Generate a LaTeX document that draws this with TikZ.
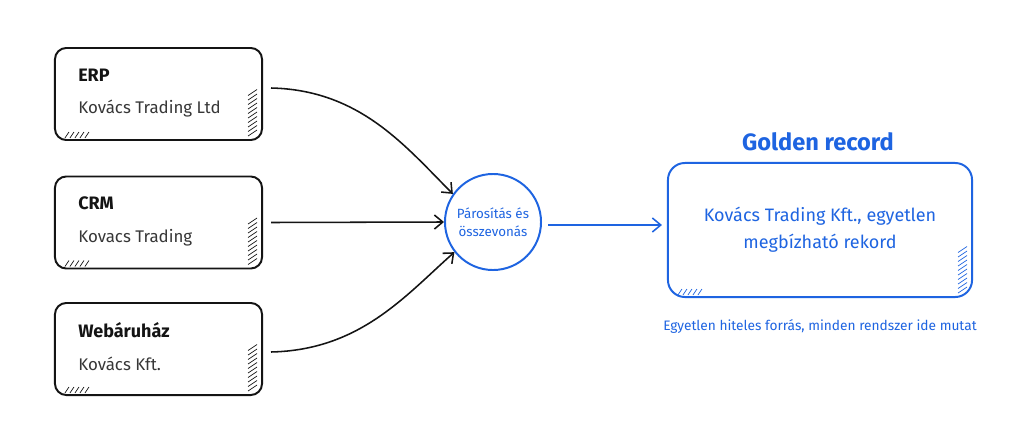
\documentclass[tikz,border=0pt]{standalone}
\usepackage{fontspec}
\setmainfont{Fira Sans}
\usetikzlibrary{calc,positioning,arrows.meta}
\definecolor{recblue}{RGB}{30,100,225}
\definecolor{inkblack}{RGB}{20,20,20}
\tikzset{
  srcbox/.style={draw=inkblack, line width=1.4pt, rounded corners=8pt, minimum width=5.175cm, minimum height=2.3cm, inner sep=0pt},
  srctitle/.style={font=\fontsize{12.8}{14}\selectfont\bfseries, text=inkblack, inner sep=0pt},
  srcsub/.style={font=\fontsize{12}{14}\selectfont, text=inkblack!85, inner sep=0pt},
  flow/.style={inkblack, line width=1.1pt, -{Straight Barb[length=6pt,width=10pt,line width=1.1pt]}},
}
\newcommand{\hatch}[2]{%
  \foreach \k in {0,...,4} \draw[#2, line width=0.5pt] ($(#1.south west)+(11+\k*5,3)$) -- ++(4,6);
  \foreach \k in {0,...,9} \draw[#2, line width=0.5pt] ($(#1.south east)+(-15,5+\k*4.5)$) -- ++(9,6);
}
\newcommand{\srcnode}[4]{%
  \node[srcbox] (#1) at (158.5,#2) {};
  \node[srctitle, anchor=west] (#1t) at ($(#1.center)+(-80.5,19)$) {#3};
  \node[srcsub, anchor=west] (#1s) at ($(#1.center)+(-80.5,-15)$) {#4};
  \hatch{#1}{inkblack}
}

\begin{document}
\begin{tikzpicture}[x=0.025cm, y=0.025cm]
  \useasboundingbox[fill=white] (0,0) rectangle (1024,436);

  % source systems
  \srcnode{erp}{342}{ERP}{Kovács Trading Ltd}
  \srcnode{crm}{213.5}{CRM}{Kovacs Trading}
  \srcnode{web}{87}{Webáruház}{Kovács Kft.}

  % matching step
  \node[circle, draw=recblue, line width=1.4pt, minimum size=2.4cm, inner sep=0pt, align=center,
        text=recblue, font=\fontsize{9.5}{13}\selectfont] (mrg) at (493,214) {Párosítás és\\összevonás};

  % golden record
  \node[draw=recblue, line width=1.4pt, rounded corners=12pt, minimum width=7.6cm, minimum height=3.35cm,
        align=center, text=recblue, font=\fontsize{12.8}{19}\selectfont] (gold) at (820,206)
        {Kovács Trading Kft., egyetlen\\megbízható rekord};
  \hatch{gold}{recblue}
  \node[text=recblue, font=\fontsize{16.8}{18}\selectfont\bfseries] (goldt) at (818,294) {Golden record};
  \node[text=recblue, font=\fontsize{9.75}{11}\selectfont] (goldc) at (820,110) {Egyetlen hiteles forrás, minden rendszer ide mutat};

  % connectors
  \draw[flow] ($(erp.east)+(8,6)$) .. controls (360,346) and (405,290) .. (mrg.145);
  \draw[flow] ($(crm.east)+(8,0)$) -- (mrg.west);
  \draw[flow] ($(web.east)+(8,-3)$) .. controls (360,86) and (405,140) .. (mrg.218);
  \draw[flow, recblue] ($(mrg.east)+(6,-3)$) -- ($(gold.west)+(-5,5)$);
\end{tikzpicture}
\end{document}
